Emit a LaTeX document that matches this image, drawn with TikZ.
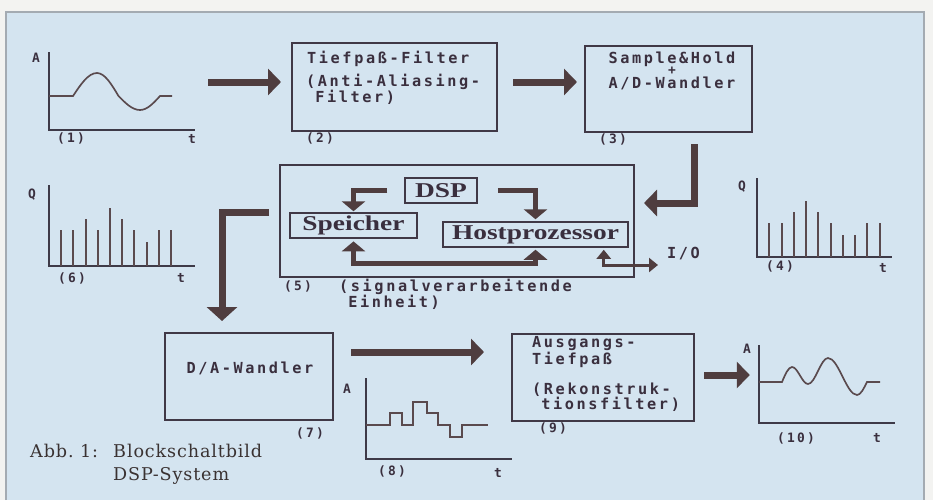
\documentclass[tikz,border=0pt]{standalone}
\usepackage{fontspec}
\usepackage{graphicx}
\usetikzlibrary{arrows.meta, calc, fit}

\newfontfamily\pixfont[LetterSpace=17]{DejaVu Sans Mono}
\newfontfamily\unitfont{Liberation Serif}
\newfontfamily\capfont[LetterSpace=5]{DejaVu Serif}
\newcommand{\wide}[1]{\scalebox{1.3}[1]{#1}}

\tikzset{
    blockbox/.style={draw=boxColour, line width=0.06cm, inner sep=0pt},
    unitbox/.style={draw=boxColour, line width=0.045cm, inner sep=0pt},
    unittext/.style={font=\unitfont\bfseries\fontsize{18}{18}\selectfont, text=inkColour, inner sep=0pt},
    sketch/.style={inner sep=0pt},
    boxtext/.style={font=\pixfont\bfseries\fontsize{13}{12}\selectfont, text=inkColour, inner sep=0pt},
    plotlabel/.style={font=\pixfont\bfseries\fontsize{11}{11}\selectfont, text=inkColour, inner sep=0pt, anchor=base},
    captiontext/.style={font=\capfont\fontsize{15}{15}\selectfont, text=captionColour, inner sep=0pt, anchor=base west},
    bigarrow/.style={draw=arrowColour, line width=0.21cm, >={Triangle[width=0.78cm, length=0.39cm]}, ->},
    unitarrow/.style={draw=arrowColour, line width=0.15cm, >={Triangle[width=0.7cm, length=0.3cm]}, ->},
    ioarrow/.style={draw=arrowColour, line width=0.09cm, >={Triangle[width=0.42cm, length=0.27cm]}, <->},
    axisline/.style={draw=axisColour, line width=0.06cm},
    curve/.style={draw=curveColour, line width=0.05cm},
    spike/.style={draw=curveColour, line width=0.06cm}
}

\begin{document}
\begin{tikzpicture}[x=0.03cm, y=-0.03cm]
    % Define colours
    \definecolor{paperColour}{HTML}{F3F3F1}
    \definecolor{panelColour}{HTML}{D4E4F0}
    \definecolor{frameColour}{HTML}{A4ABB2}
    \definecolor{boxColour}{HTML}{403846}
    \definecolor{inkColour}{HTML}{3A2F3E}
    \definecolor{captionColour}{HTML}{3A3232}
    \definecolor{arrowColour}{HTML}{4F3D3F}
    \definecolor{axisColour}{HTML}{3E3A48}
    \definecolor{curveColour}{HTML}{5A4A4E}

    % Page and panel
    \useasboundingbox (0,0) rectangle (933,500);
    \fill[paperColour] (0,0) rectangle (933,500);
    \fill[panelColour] (6,12) rectangle (924,500);
    \draw[frameColour, line width=0.06cm] (6,500) -- (6,12) -- (924,12) -- (924,500);

    % Blocks
    \node[blockbox, fit={(292,43) (497,131)}] (tp) {};
    \node[blockbox, fit={(585,46) (752,132)}] (sh) {};
    \node[blockbox, fit={(280,165) (634,277)}] (dsu) {};
    \node[blockbox, fit={(165,333) (333,420)}] (da) {};
    \node[blockbox, fit={(512,334) (694,421)}] (atp) {};

    % Block texts
    \node[boxtext, anchor=base west] (tpa) at (307,63) {Tiefpaß-Filter};
    \node[boxtext, anchor=north west, align=left] (tpb) at (306,73.5) {(Anti-Aliasing-\\\hphantom{(}Filter)};
    \node[boxtext, anchor=base] (sha) at (672,63) {Sample\&Hold};
    \node[plotlabel, anchor=center] (shb) at (672,71) {+};
    \node[boxtext, anchor=base] (shc) at (672,88) {A/D-Wandler};
    \node[boxtext, anchor=base] (daa) at (250,373) {D/A-Wandler};
    \node[boxtext, anchor=north west, align=left] (atpa) at (532,336) {Ausgangs-\\Tiefpaß};
    \node[boxtext, anchor=north west, align=left] (atpb) at (532,382.5) {(Rekonstruk-\\\hphantom{(}tionsfilter)};

    % Units inside the DSP block
    \node[unitbox, fit={(405,178) (477,203)}] (dsp) {};
    \node[unitbox, fit={(290,213) (417,238)}] (spk) {};
    \node[unitbox, fit={(443,222) (628,247)}] (host) {};
    \node[unittext] (dspt) at (dsp.center) {\wide{DSP}};
    \node[unittext] (spkt) at (spk.center) {\wide{Speicher}};
    \node[unittext] (hostt) at (host.center) {\wide{Hostprozessor}};
    \coordinate (io) at (658,265);

    \draw[unitarrow, shorten <=0.51cm, shorten >=0.03cm] (dsp.west) -| (spk.north);
    \draw[unitarrow, shorten <=0.6cm, shorten >=0.06cm] (dsp.east) -| (host.north);
    \draw[unitarrow, <->, shorten <=0.08cm, shorten >=0.06cm] (spk.south) -- ++(0,25) -| (host.south);
    \draw[ioarrow, shorten <=0.06cm] ($(host.south east)+(-25,0)$) |- (io);
    \node[boxtext, anchor=base west] (iolabel) at (667,258) {I/O};

    % Signal (1)
    \node[sketch, fit={(49,52) (195,130)}] (sig1) {};
    \draw[axisline] (49,52) -- (49,130) -- (195,130);
    \draw[curve] (49,96) -- (73,96) sin (97,73) cos (118.5,96) sin (140,110) cos (160,96) -- (172,96);
    \node[plotlabel] (a1) at (36,62) {A};
    \node[plotlabel] (n1) at (71,142) {(1)};
    \node[plotlabel] (t1) at (192,143) {t};

    % Signal (4)
    \node[sketch, fit={(757,178) (892,257)}] (sig4) {};
    \draw[axisline] (757,178) -- (757,257) -- (892,257);
    \foreach \x/\h in {769/223, 782/223, 794/212, 806/201, 818/212, 831/223, 843/235, 855/235, 867/223, 880/223}
        \draw[spike] (\x,257) -- (\x,\h);
    \node[plotlabel] (q4) at (742,190) {Q};
    \node[plotlabel] (n4) at (780,270) {(4)};
    \node[plotlabel] (t4) at (883,272) {t};

    % Signal (6)
    \node[sketch, fit={(49,185) (195,266)}] (sig6) {};
    \draw[axisline] (49,185) -- (49,266) -- (195,266);
    \foreach \x/\h in {61/230, 73/230, 86/219, 98/230, 110/208, 122/219, 134/230, 147/242, 159/230, 171/230}
        \draw[spike] (\x,266) -- (\x,\h);
    \node[plotlabel] (q6) at (32,198) {Q};
    \node[plotlabel] (n6) at (72,282) {(6)};
    \node[plotlabel] (t6) at (181,282) {t};

    % Signal (8)
    \node[sketch, fit={(366,378) (512,459)}] (sig8) {};
    \draw[axisline] (366,378) -- (366,459) -- (512,459);
    \draw[curve] (366,425) -| (390,413) -| (402,425) -| (413,402) -| (427,413) -| (438,425) -| (450,437) -| (462,425) -- (488,425);
    \node[plotlabel] (a8) at (347,393) {A};
    \node[plotlabel] (n8) at (392,475) {(8)};
    \node[plotlabel] (t8) at (498,477) {t};

    % Signal (10)
    \node[sketch, fit={(759,345) (895,423)}] (sig10) {};
    \draw[axisline] (759,345) -- (759,423) -- (895,423);
    \draw[curve] (759,382) -- (782,382) sin (792,367) cos (800,375.5) sin (808,384) cos (818,371) sin (828,358) cos (842.5,376.5) sin (857,395) cos (867,382) -- (880,382);
    \node[plotlabel] (a10) at (747,353) {A};
    \node[plotlabel] (n10) at (796,442) {(10)};
    \node[plotlabel] (t10) at (877,442) {t};

    % Block numbers
    \node[plotlabel] (n2) at (320,142) {(2)};
    \node[plotlabel] (n3) at (613,143) {(3)};
    \node[plotlabel] (n5) at (298,290) {(5)};
    \node[boxtext, anchor=north west, align=left] (dsua) at (339,278.5) {(signalverarbeitende\\\hphantom{(}Einheit)};
    \node[plotlabel] (n7) at (310,437) {(7)};
    \node[plotlabel] (n9) at (553,432) {(9)};

    % Signal path
    \coordinate (row1) at (0,82);
    \coordinate (bend3) at (694,203);
    \coordinate (bend5) at (222,212);
    \coordinate (row3) at (0,352);
    \coordinate (row4) at (0,375);
    \draw[bigarrow, shorten <=0.39cm, shorten >=0.3cm] (sig1.east |- row1) -- (tp.west |- row1);
    \draw[bigarrow, shorten <=0.45cm, shorten >=0.21cm] (tp.east |- row1) -- (sh.west |- row1);
    \draw[bigarrow, shorten <=0.33cm, shorten >=0.27cm] (sh.south -| bend3) -- (bend3) -- (bend3 -| dsu.east);
    \draw[bigarrow, shorten <=0.3cm, shorten >=0.33cm, >={Triangle[width=0.9cm, length=0.42cm]}] (dsu.west |- bend5) -- (bend5) -- (bend5 |- da.north);
    \draw[bigarrow, shorten <=0.51cm, shorten >=0.81cm] (da.east |- row3) -- (atp.west |- row3);
    \draw[bigarrow, shorten <=0.27cm, shorten >=0.27cm] (atp.east |- row4) -- (sig10.west |- row4);

    % Caption
    \node[captiontext] (capa) at (30,457) {Abb.\ 1:};
    \node[captiontext] (capb) at (113,457) {Blockschaltbild};
    \node[captiontext] (capc) at (113,480) {DSP-System};
\end{tikzpicture}
\end{document}
